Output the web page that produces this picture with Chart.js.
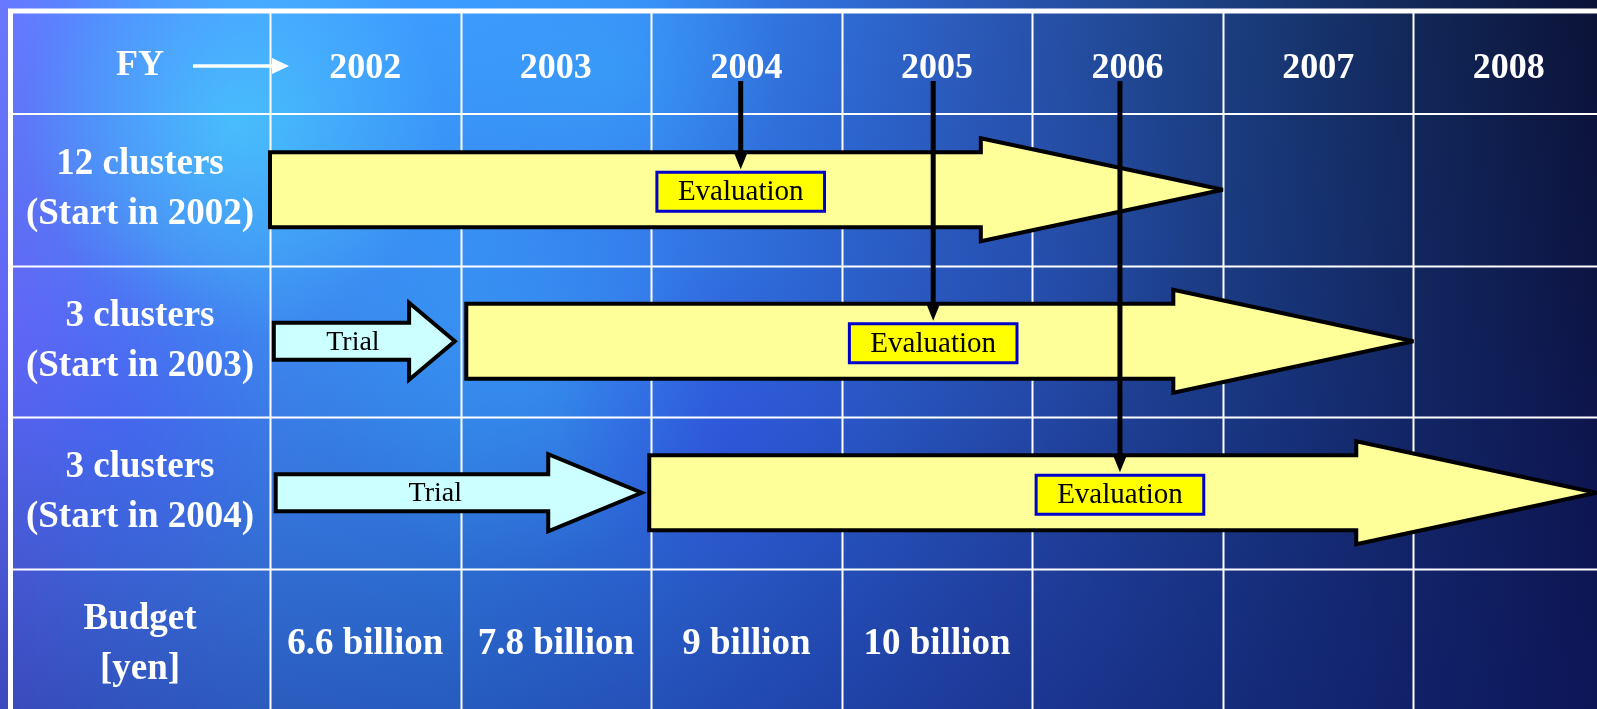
<!DOCTYPE html>
<html>
<head>
<meta charset="utf-8">
<script src="https://cdn.jsdelivr.net/npm/chart.js@4"></script>
<style>
  html, body { margin: 0; padding: 0; width: 1597px; height: 709px; overflow: hidden; background: #0b1236; }
  #wrap { position: absolute; left: 0; top: 0; width: 1604px; height: 720px; }
</style>
</head>
<body>
<div id="wrap"><canvas id="plan"></canvas></div>
<script>
// Fiscal-year columns and programme rows
const fiscalYears = ['2002', '2003', '2004', '2005', '2006', '2007', '2008'];
const rowLabels = [
  ['12 clusters', '(Start in 2002)'],
  ['3 clusters', '(Start in 2003)'],
  ['3 clusters', '(Start in 2004)'],
  ['Budget', '[yen]']
];

// Trial phase (fiscal-year units): start, start of arrow head, tip
const trialStart = [null, 2002.02, 2002.03, null];
const trialHead  = [null, 2002.73, 2003.46, null];
const trialEnd   = [null, 2002.97, 2003.95, null];

// Main phase (fiscal-year units): start, start of arrow head, tip
const mainStart = [2002.00, 2003.03, 2003.99, null];
const mainHead  = [2005.73, 2006.74, 2007.70, null];
const mainEnd   = [2007.00, 2008.00, 2008.96, null];

// Point in each main phase where the evaluation takes place
const evaluationAt = [2004.47, 2005.48, 2006.46];

// Yearly budget, billion yen
const budgetYears = [2002, 2003, 2004, 2005];
const budgetBillion = [6.6, 7.8, 9, 10];

const SERIF = '"Liberation Serif", "Times New Roman", serif';
const LABEL_COL = 270;   // right edge of the label column
const HEADER_H = 114;    // height of the header band

function glow(ctx, x, y, r, rgb, a) {
  const g = ctx.createRadialGradient(x, y, 0, x, y, r);
  g.addColorStop(0, `rgba(${rgb},${a})`);
  g.addColorStop(1, `rgba(${rgb},0)`);
  ctx.fillStyle = g;
  ctx.fillRect(x - r, y - r, 2 * r, 2 * r);
}

const backdrop = {
  id: 'backdrop',
  beforeDraw(chart) {
    const { ctx, width: w, height: h } = chart;
    ctx.save();
    const g = ctx.createLinearGradient(0, 0, w, 0);
    [[0, '#6878ff'], [0.06, '#5488ff'], [0.17, '#459cff'], [0.28, '#3c9cff'],
     [0.40, '#3888f6'], [0.52, '#2f6cd6'], [0.63, '#2955b0'], [0.76, '#1b3f80'],
     [0.88, '#122858'], [1, '#0b1236']].forEach(([o, c]) => g.addColorStop(o, c));
    ctx.fillStyle = g;
    ctx.fillRect(0, 0, w, h);
    const v = ctx.createLinearGradient(0, 0, 0, h);
    v.addColorStop(0, 'rgba(20,30,140,0)');
    v.addColorStop(0.45, 'rgba(20,30,150,0.15)');
    v.addColorStop(1, 'rgba(15,25,120,0.5)');
    ctx.fillStyle = v;
    ctx.fillRect(0, 0, w, h);
    glow(ctx, 235, 125, 210, '75,225,255', 0.55);
    glow(ctx, 610, 70, 170, '60,195,255', 0.3);
    glow(ctx, 15, 330, 170, '110,95,255', 0.4);
    glow(ctx, 130, 420, 180, '70,80,255', 0.3);
    glow(ctx, 520, 370, 200, '60,175,255', 0.3);
    glow(ctx, 730, 430, 170, '50,60,230', 0.35);
    glow(ctx, 1000, 250, 200, '40,90,200', 0.22);
    ctx.restore();
  }
};

function rowStep(y) {
  return y.getPixelForValue(1) - y.getPixelForValue(0);
}

const table = {
  id: 'table',
  beforeDatasetsDraw(chart) {
    const { ctx, chartArea: ca, scales: { x, y }, width: w, height: h } = chart;
    ctx.save();
    ctx.strokeStyle = '#ffffff';
    ctx.lineWidth = 2;
    ctx.beginPath();
    // column boundaries
    for (let yr = 2002; yr <= 2009; yr++) {
      const px = Math.round(x.getPixelForValue(yr)) + 0.5;
      ctx.moveTo(px, 11); ctx.lineTo(px, h);
    }
    // header band and row boundaries
    ctx.moveTo(10, ca.top); ctx.lineTo(w, ca.top);
    const step = rowStep(y);
    for (let i = 0; i < rowLabels.length - 1; i++) {
      const py = Math.round(y.getPixelForValue(i) + step / 2) + 0.5;
      ctx.moveTo(10, py); ctx.lineTo(w, py);
    }
    ctx.stroke();
    // outer frame
    ctx.lineWidth = 5;
    ctx.beginPath();
    ctx.moveTo(10.5, h); ctx.lineTo(10.5, 11); ctx.lineTo(w, 11);
    ctx.stroke();

    // "FY" header with its pointer
    ctx.fillStyle = '#ffffff';
    ctx.font = `bold 36px ${SERIF}`;
    ctx.textAlign = 'center';
    ctx.textBaseline = 'middle';
    const hy = 66;
    ctx.fillText('FY', 140, hy);
    ctx.lineWidth = 3.5;
    ctx.beginPath(); ctx.moveTo(193, hy); ctx.lineTo(275, hy); ctx.stroke();
    ctx.beginPath();
    ctx.moveTo(272, hy - 8); ctx.lineTo(289, hy); ctx.lineTo(272, hy + 8); ctx.closePath();
    ctx.fill();

    // budget figures
    ctx.font = `bold 37px ${SERIF}`;
    const by = y.getPixelForValue(rowLabels.length - 1);
    budgetYears.forEach((yr, i) => {
      ctx.fillText(`${budgetBillion[i]} billion`, x.getPixelForValue(yr + 0.5), by);
    });
    ctx.restore();
  },
  afterDatasetsDraw(chart) {
    const { ctx, chartArea: ca, scales: { x } } = chart;
    ctx.save();
    ctx.lineJoin = 'miter';
    ctx.miterLimit = 4;
    chart.data.datasets.forEach((ds, di) => {
      const meta = chart.getDatasetMeta(di);
      meta.data.forEach((el, i) => {
        if (!ds.data[i]) return;
        const p = el.getProps(['x', 'y', 'base', 'height'], true);
        const xh = x.getPixelForValue(ds.headAt[i]);
        const hb = p.height / 2, hh = ds.headSpan / 2;
        ctx.beginPath();
        ctx.moveTo(p.base, p.y - hb);
        ctx.lineTo(xh, p.y - hb);
        ctx.lineTo(xh, p.y - hh);
        ctx.lineTo(p.x, p.y);
        ctx.lineTo(xh, p.y + hh);
        ctx.lineTo(xh, p.y + hb);
        ctx.lineTo(p.base, p.y + hb);
        ctx.closePath();
        ctx.fillStyle = ds.arrowFill;
        ctx.fill();
        ctx.lineWidth = 4;
        ctx.strokeStyle = '#000000';
        ctx.stroke();
        if (ds.caption) {
          ctx.fillStyle = '#000000';
          ctx.font = `28px ${SERIF}`;
          ctx.textAlign = 'center';
          ctx.textBaseline = 'middle';
          ctx.fillText(ds.caption, p.base / 2 + xh / 4 + p.x / 4, p.y + 1);
        }
      });
    });

    // evaluation markers: boxed label plus a pointer from the year header
    const mainMeta = chart.getDatasetMeta(1);
    ctx.font = `29px ${SERIF}`;
    const tw = ctx.measureText('Evaluation').width;
    const bw = tw + 42, bh = 39;
    evaluationAt.forEach((yr, i) => {
      const cx = x.getPixelForValue(yr);
      const cy = mainMeta.data[i].y + 2;
      ctx.fillStyle = '#ffff00';
      ctx.fillRect(cx - bw / 2, cy - bh / 2, bw, bh);
      ctx.lineWidth = 3;
      ctx.strokeStyle = '#0000cc';
      ctx.strokeRect(cx - bw / 2, cy - bh / 2, bw, bh);
      ctx.fillStyle = '#000000';
      ctx.textAlign = 'center';
      ctx.textBaseline = 'middle';
      ctx.fillText('Evaluation', cx, cy + 1);

      const top = ca.top - 33;
      const tip = cy - bh / 2 - 3;
      ctx.strokeStyle = '#000000';
      ctx.lineWidth = 5;
      ctx.beginPath();
      ctx.moveTo(cx, top); ctx.lineTo(cx, tip - 12);
      ctx.stroke();
      ctx.fillStyle = '#000000';
      ctx.beginPath();
      ctx.moveTo(cx - 6.5, tip - 16); ctx.lineTo(cx + 6.5, tip - 16); ctx.lineTo(cx, tip);
      ctx.closePath();
      ctx.fill();
    });
    ctx.restore();
  }
};

// centre the row labels in the label column
const meas = document.createElement('canvas').getContext('2d');
meas.font = `bold 37px ${SERIF}`;
const widestLabel = Math.max(...rowLabels.flat().map(t => meas.measureText(t).width));
const labelPad = LABEL_COL - 140 - widestLabel / 2;

new Chart(document.getElementById('plan'), {
  type: 'bar',
  data: {
    labels: rowLabels,
    datasets: [
      {
        label: 'Trial',
        data: trialStart.map((s, i) => (s == null ? null : [s, trialEnd[i]])),
        headAt: trialHead,
        headSpan: 77,
        arrowFill: '#ccffff',
        caption: 'Trial',
        barThickness: 37,
        grouped: false,
        backgroundColor: 'rgba(0,0,0,0)',
        borderWidth: 0,
        xAxisID: 'x',
        yAxisID: 'y'
      },
      {
        label: 'Main phase',
        data: mainStart.map((s, i) => (s == null ? null : [s, mainEnd[i]])),
        headAt: mainHead,
        headSpan: 103,
        arrowFill: '#ffff99',
        barThickness: 75,
        grouped: false,
        backgroundColor: 'rgba(0,0,0,0)',
        borderWidth: 0,
        xAxisID: 'x',
        yAxisID: 'y'
      }
    ]
  },
  options: {
    indexAxis: 'y',
    responsive: true,
    maintainAspectRatio: false,
    animation: false,
    events: [],
    layout: { padding: 0 },
    plugins: { legend: { display: false }, tooltip: { enabled: false } },
    scales: {
      x: {
        type: 'linear',
        min: 2002,
        max: 2009,
        display: false
      },
      years: {
        type: 'category',
        axis: 'x',
        position: 'top',
        labels: fiscalYears,
        offset: true,
        grid: { display: false, drawTicks: false },
        border: { display: false },
        ticks: {
          color: '#ffffff',
          autoSkip: false,
          maxRotation: 0,
          padding: 27,
          font: { family: SERIF, size: 36, weight: 'bold', lineHeight: 1 }
        },
        afterFit(scale) {
          scale.height = HEADER_H;
          scale.paddingLeft = 0;
          scale.paddingRight = 0;
        }
      },
      y: {
        type: 'category',
        position: 'left',
        offset: true,
        grid: { display: false, drawTicks: false },
        border: { display: false },
        ticks: {
          color: '#ffffff',
          autoSkip: false,
          crossAlign: 'center',
          padding: labelPad,
          font: { family: SERIF, size: 37, weight: 'bold', lineHeight: 1.35 }
        },
        afterFit(scale) {
          scale.width = LABEL_COL;
          scale.paddingTop = 0;
          scale.paddingBottom = 0;
        }
      }
    }
  },
  plugins: [backdrop, table]
});
</script>
</body>
</html>
